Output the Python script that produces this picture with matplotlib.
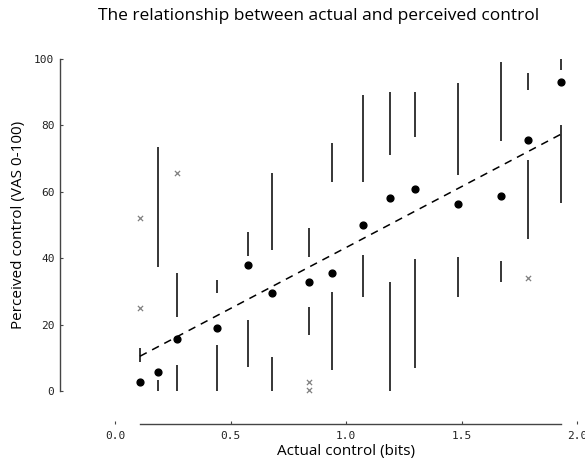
import matplotlib.pyplot as plt

# actual control (bits) for each condition
x = [0.108, 0.186, 0.268, 0.44, 0.576, 0.68, 0.84, 0.94, 1.074, 1.192, 1.30, 1.485, 1.67, 1.79, 1.93]
# five-number summaries
whislo = [0.0, 0.0, 0.0, 0.0, 7.2, 0.0, 16.9, 6.3, 28.4, 0.0, 6.8, 28.2, 32.7, 45.8, 56.7]
q1 = [0.0, 3.3, 7.8, 13.9, 21.4, 10.3, 25.4, 29.7, 41.0, 32.7, 39.8, 40.3, 39.2, 69.6, 80.1]
med = [2.7, 5.7, 15.7, 19.0, 38.0, 29.4, 32.9, 35.4, 50.0, 58.0, 60.7, 56.2, 58.7, 75.6, 93.0]
q3 = [8.7, 37.3, 22.3, 29.5, 40.7, 42.5, 40.5, 63.0, 63.0, 71.1, 76.4, 65.1, 75.3, 90.8, 96.7]
whishi = [12.9, 73.5, 35.5, 33.4, 48.0, 65.6, 49.0, 74.6, 89.2, 90.2, 90.2, 92.7, 99.2, 95.7, 100.2]

# outliers
out_x = [0.108, 0.108, 0.268, 0.84, 0.84, 1.79]
out_y = [52.0, 25.0, 65.6, 2.8, 0.3, 33.9]

# fitted line
intercept = 6.5
slope = 36.7

fig = plt.figure(figsize=(5.85, 4.66), dpi=100)
ax = fig.add_axes([115 / 585, 75 / 466, 462 / 585, 332 / 466])

ax.vlines(x, whislo, q1, color='black', lw=1.1)
ax.vlines(x, q3, whishi, color='black', lw=1.1)
ax.scatter(x, med, s=24, color='black', zorder=3, clip_on=False)
ax.scatter(out_x, out_y, marker='x', s=14, color='#808080', lw=0.9, clip_on=False)

x0, x1 = min(x), max(x)
ax.plot([x0, x1], [intercept + slope * x0, intercept + slope * x1],
        color='black', ls=(0, (5, 4)), lw=1.1)

ax.set_xlim(0, 2.0)
ax.set_ylim(0, 100)

for s in ['top', 'right']:
    ax.spines[s].set_visible(False)
ax.spines['left'].set_position(('outward', 39.6))
ax.spines['bottom'].set_position(('outward', 23.8))
ax.spines['left'].set_bounds(0, 100)
ax.spines['bottom'].set_bounds(x0, x1)
for s in ['left', 'bottom']:
    ax.spines[s].set_color('#444444')
    ax.spines[s].set_linewidth(1.0)

ax.set_xticks([0.0, 0.5, 1.0, 1.5, 2.0])
ax.set_xticklabels(['0.0', '0.5', '1.0', '1.5', '2.0'])
ax.set_yticks([0, 20, 40, 60, 80, 100])
ax.tick_params(direction='in', length=2.5, width=0.8, color='#444444',
               labelsize=8, labelcolor='#222222')
ax.tick_params(axis='x', pad=5)
ax.tick_params(axis='y', pad=4)
for lab in ax.get_xticklabels() + ax.get_yticklabels():
    lab.set_family('DejaVu Sans Mono')

ax.set_xlabel('Actual control (bits)', fontsize=11, family='Open Sans', labelpad=2)
ax.set_ylabel('Perceived control (VAS 0-100)', fontsize=11, family='Open Sans', labelpad=6)
fig.text(319 / 585, 0.965, 'The relationship between actual and perceived control',
         ha='center', va='center', fontsize=12.5, family='Open Sans')

fig.savefig('out.png', dpi=100)
